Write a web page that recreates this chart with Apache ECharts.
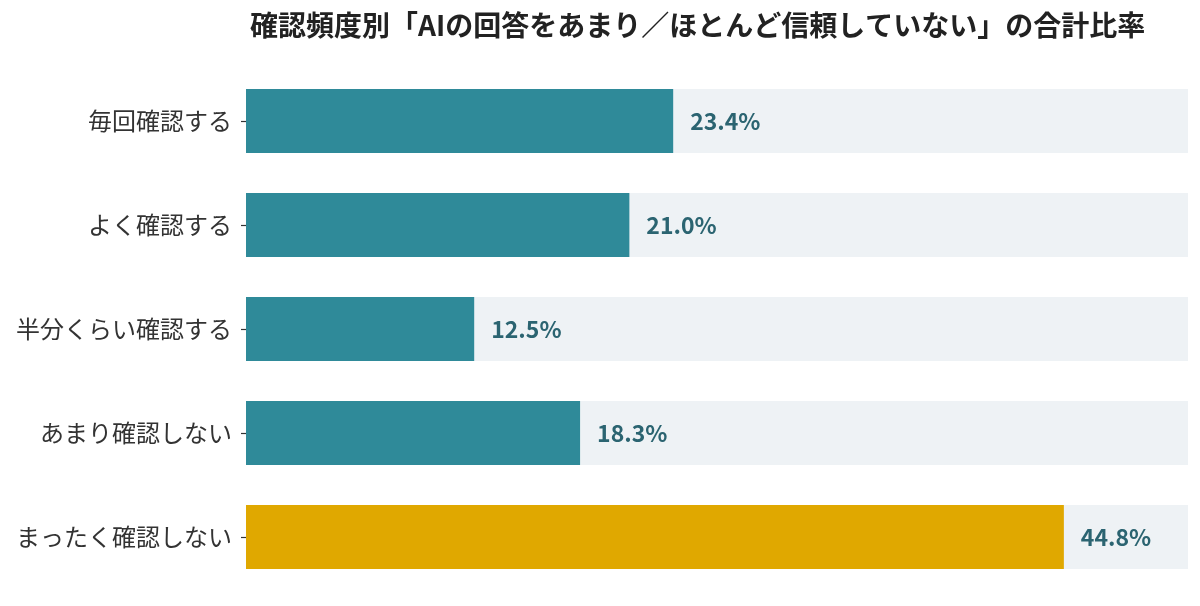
<!DOCTYPE html>
<html>
<head>
<meta charset="utf-8">
<script src="https://cdn.jsdelivr.net/npm/echarts@6/dist/echarts.min.js"></script>
<style>
  html, body { margin: 0; padding: 0; background: #fff; }
  #chart { width: 1200px; height: 606px; }
</style>
</head>
<body>
<div id="chart"></div>
<script>
// カテゴリと値（%）
var categories = ['毎回確認する', 'よく確認する', '半分くらい確認する', 'あまり確認しない', 'まったく確認しない'];
var values = [23.4, 21.0, 12.5, 18.3, 44.8];
var highlight = 'まったく確認しない';

var chart = echarts.init(document.getElementById('chart'));

var option = {
  animation: false,
  textStyle: { fontFamily: '"Noto Sans CJK JP", "Noto Sans", sans-serif' },
  title: {
    text: '確認頻度別「AIの回答をあまり／ほとんど信頼していない」の合計比率',
    left: 245,
    top: 6,
    textStyle: {
      fontSize: 28,
      fontWeight: 'bold',
      color: '#222222',
      fontFamily: '"Noto Sans CJK JP", sans-serif'
    }
  },
  grid: { left: 246, right: 12, top: 69, bottom: 17 },
  xAxis: {
    type: 'value',
    min: 0,
    max: 51.6,
    show: false
  },
  yAxis: {
    type: 'category',
    data: categories,
    inverse: true,
    axisLine: { show: false },
    axisTick: { show: true, length: 5, alignWithLabel: true, lineStyle: { color: '#333333', width: 1.2 } },
    axisLabel: {
      margin: 14,
      fontSize: 24,
      color: '#333333',
      fontFamily: '"Noto Sans CJK JP", sans-serif'
    }
  },
  series: [{
    type: 'bar',
    barWidth: 64,
    showBackground: true,
    backgroundStyle: { color: '#eef2f5' },
    data: values.map(function (v, i) {
      return {
        value: v,
        itemStyle: { color: categories[i] === highlight ? '#e0a800' : '#2f8a99' }
      };
    }),
    label: {
      show: true,
      position: 'right',
      distance: 17,
      formatter: function (p) { return p.value.toFixed(1) + '%'; },
      fontSize: 23,
      fontWeight: 'bold',
      color: '#2b6471',
      fontFamily: '"Noto Sans CJK JP", sans-serif'
    }
  }]
};

chart.setOption(option);
</script>
</body>
</html>
